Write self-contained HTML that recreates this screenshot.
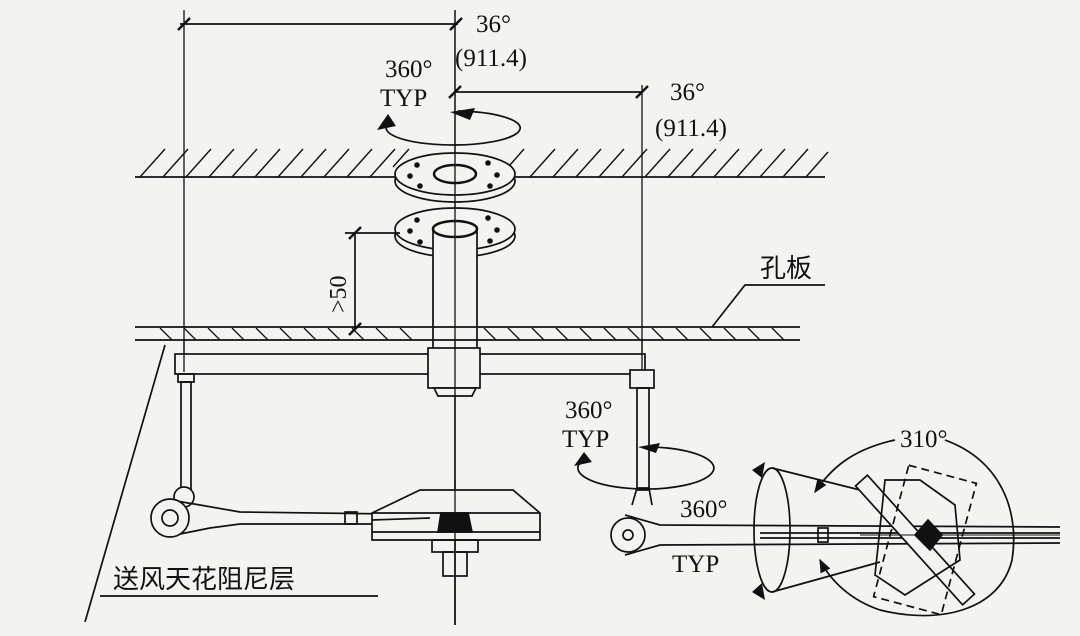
<!DOCTYPE html>
<html><head><meta charset="utf-8"><style>
html,body{margin:0;padding:0;background:#f3f3f1;}
svg{display:block}
text{font-family:"Liberation Serif","Noto Serif CJK SC",serif;fill:#111}
.cjk{font-family:"Liberation Sans","Noto Sans CJK SC",sans-serif}
</style></head><body>
<svg width="1080" height="636" viewBox="0 0 1080 636" xmlns="http://www.w3.org/2000/svg" stroke="#111" fill="none" stroke-width="1.7">
<defs>
<marker id="ar" viewBox="0 0 10 10" refX="9" refY="5" markerWidth="8" markerHeight="8" orient="auto"><path d="M0,1 L10,5 L0,9 z" fill="#111" stroke="none"/></marker>
</defs>
<rect x="0" y="0" width="1080" height="636" fill="#f3f3f1" stroke="none"/>
<!-- dimensions -->
<line x1="180" y1="24" x2="458" y2="24"/>
<line x1="184" y1="10" x2="184" y2="372" stroke-width="1.3"/>
<line x1="178" y1="30" x2="190" y2="18" stroke-width="2.5"/>
<line x1="450" y1="30" x2="462" y2="18" stroke-width="2.5"/>
<line x1="455" y1="10" x2="455" y2="625" stroke-width="1.3"/>
<line x1="455" y1="92" x2="642" y2="92"/>
<line x1="449" y1="98" x2="461" y2="86" stroke-width="2.5"/>
<line x1="636" y1="98" x2="648" y2="86" stroke-width="2.5"/>
<line x1="642" y1="85" x2="642" y2="372" stroke-width="1.3"/>
<g stroke="none" font-size="25">
<text x="476" y="32">36°</text>
<text x="455" y="66">(911.4)</text>
<text x="385" y="77">360°</text>
<text x="380" y="106">TYP</text>
<text x="670" y="100">36°</text>
<text x="655" y="136">(911.4)</text>
<text x="565" y="418">360°</text>
<text x="562" y="447">TYP</text>
<text x="680" y="517">360°</text>
<text x="672" y="572">TYP</text>
<text x="900" y="447">310°</text>
</g>
<!-- top rotation -->
<path d="M388,124 A67,17 0 1 0 458,111"/>
<path d="M475,108 L450,112 L470,120 z" fill="#111" stroke="none"/>
<path d="M377,130 L388,114 L396,126 z" fill="#111" stroke="none"/>
<!-- ceiling -->
<line x1="135" y1="177" x2="825" y2="177"/>
<g stroke-width="1.4">
<path d="M140,177 l25,-28 M163,177 l25,-28 M186,177 l25,-28 M209,177 l25,-28 M232,177 l25,-28 M255,177 l25,-28 M278,177 l25,-28 M301,177 l25,-28 M324,177 l25,-28 M347,177 l25,-28 M370,177 l25,-28 M393,167 l16,-18 M510,165 l14,-16 M530,177 l25,-28 M553,177 l25,-28 M576,177 l25,-28 M599,177 l25,-28 M622,177 l25,-28 M645,177 l25,-28 M668,177 l25,-28 M691,177 l25,-28 M714,177 l25,-28 M737,177 l25,-28 M760,177 l25,-28 M783,177 l25,-28 M806,177 l22,-25"/>
</g>
<!-- flanges -->
<g fill="#f3f3f1">
<ellipse cx="455" cy="181" rx="60" ry="21"/>
<ellipse cx="455" cy="174" rx="60" ry="21"/>
<ellipse cx="455" cy="236" rx="60" ry="21"/>
<ellipse cx="455" cy="229" rx="60" ry="21"/>
</g>
<ellipse cx="455" cy="174" rx="21" ry="9" stroke-width="2.5"/>
<g fill="#111" stroke="none">
<circle cx="417" cy="165" r="2.8"/><circle cx="410" cy="176" r="2.8"/><circle cx="420" cy="186" r="2.8"/><circle cx="488" cy="163" r="2.8"/><circle cx="497" cy="175" r="2.8"/><circle cx="490" cy="186" r="2.8"/>
<circle cx="417" cy="220" r="2.8"/><circle cx="410" cy="231" r="2.8"/><circle cx="420" cy="242" r="2.8"/><circle cx="488" cy="218" r="2.8"/><circle cx="497" cy="230" r="2.8"/><circle cx="490" cy="241" r="2.8"/>
</g>
<!-- pipe -->
<rect x="433" y="229" width="44" height="120" fill="#f3f3f1"/>
<ellipse cx="455" cy="229" rx="22" ry="8" stroke-width="2.5" fill="#f3f3f1"/>
<line x1="455" y1="10" x2="455" y2="625" stroke-width="1.3"/>
<!-- >50 -->
<line x1="345" y1="233" x2="400" y2="233"/>
<line x1="355" y1="233" x2="355" y2="330"/>
<line x1="349" y1="239" x2="361" y2="227" stroke-width="2.5"/>
<line x1="349" y1="335" x2="361" y2="323" stroke-width="2.5"/>
<text x="0" y="0" font-size="24" stroke="none" transform="translate(346,313) rotate(-90)">&gt;50</text>
<!-- perforated plate -->
<line x1="135" y1="327" x2="800" y2="327"/>
<line x1="135" y1="340" x2="800" y2="340"/>
<g stroke-width="1.3">
<path d="M160,328 l12,12 M184,328 l12,12 M208,328 l12,12 M232,328 l12,12 M256,328 l12,12 M280,328 l12,12 M304,328 l12,12 M328,328 l12,12 M352,328 l12,12 M376,328 l12,12 M400,328 l12,12 M484,328 l12,12 M508,328 l12,12 M532,328 l12,12 M556,328 l12,12 M580,328 l12,12 M604,328 l12,12 M628,328 l12,12 M652,328 l12,12 M676,328 l12,12 M700,328 l12,12 M724,328 l12,12 M748,328 l12,12 M772,328 l12,12"/>
</g>
<text x="760" y="277" font-size="26" class="cjk" stroke="none">孔板</text>
<polyline points="825,285 745,285 712,327"/>
<!-- bar -->
<rect x="175" y="354" width="470" height="20" fill="#f3f3f1"/>
<rect x="428" y="348" width="52" height="40" fill="#f3f3f1"/>
<path d="M434,388 L476,388 L472,396 L438,396 z" fill="#f3f3f1"/>
<line x1="455" y1="340" x2="455" y2="625" stroke-width="1.3"/>
<line x1="184" y1="340" x2="184" y2="372" stroke-width="1.3"/>
<line x1="642" y1="340" x2="642" y2="372" stroke-width="1.3"/>
<rect x="630" y="370" width="24" height="18" fill="#f3f3f1"/>
<!-- left rod -->
<rect x="178" y="374" width="16" height="8"/>
<rect x="181" y="382" width="10" height="108"/>
<circle cx="184" cy="497" r="10" fill="#f3f3f1"/>
<path d="M170,500 L200,505 L240,512 L390,514 M170,536 L210,528 L240,524 L390,524"/>
<circle cx="170" cy="518" r="19" fill="#f3f3f1"/>
<circle cx="170" cy="518" r="8"/>
<rect x="345" y="512" width="12" height="12"/>
<!-- diffuser -->
<path d="M420,490 L513,490 L540,513 L540,540 L372,540 L372,513 z" fill="#f3f3f1"/>
<line x1="372" y1="513" x2="540" y2="513"/>
<line x1="372" y1="532" x2="540" y2="532"/>
<line x1="372" y1="520" x2="430" y2="518"/>
<path d="M441,513 L468,513 L472,532 L438,532 z" fill="#111"/>
<rect x="432" y="540" width="46" height="12"/>
<rect x="443" y="552" width="24" height="24"/>
<line x1="455" y1="480" x2="455" y2="625" stroke-width="1.3"/>
<!-- left label -->
<text x="113" y="588" font-size="26" class="cjk" stroke="none">送风天花阻尼层</text>
<line x1="100" y1="596" x2="378" y2="596"/>
<line x1="165" y1="345" x2="85" y2="622"/>
<!-- right rod -->
<rect x="637" y="388" width="12" height="102"/>
<path d="M632,505 L637,488 L649,488 L652,505"/>
<path d="M625,515 L660,525 L1060,527 M625,555 L660,545 L1060,543"/>
<line x1="760" y1="533" x2="1060" y2="533"/>
<line x1="760" y1="538" x2="1060" y2="538"/>
<circle cx="628" cy="535" r="17" fill="#f3f3f1"/>
<circle cx="628" cy="535" r="5"/>
<!-- right rotation -->
<path d="M583,460 A68,21 0 1 0 645,447"/>
<path d="M660,443 L638,447 L656,453 z" fill="#111" stroke="none"/>
<path d="M574,466 L584,452 L592,462 z" fill="#111" stroke="none"/>
<!-- cone -->
<ellipse cx="772" cy="530" rx="18" ry="62"/>
<path d="M772,468 L880,495 M772,592 L880,562"/>
<rect x="818" y="528" width="10" height="14"/>
<!-- big circular arrow -->
<path d="M895,440 C850,450 830,470 815,492" marker-end="url(#ar)"/>
<path d="M945,440 C1000,460 1020,510 1012,560 C1000,610 940,625 880,610 C850,600 830,580 820,560" marker-end="url(#ar)"/>
<path d="M752,470 L765,462 L762,478 z" fill="#111" stroke="none"/>
<path d="M752,592 L765,600 L762,583 z" fill="#111" stroke="none"/>
<!-- tilted plate -->
<g transform="translate(915,540) rotate(48)">
<rect x="-80" y="-8" width="160" height="16" fill="#f3f3f1"/>
</g>
<g transform="translate(925,540) rotate(15)">
<rect x="-35" y="-68" width="70" height="136" stroke-dasharray="8,5"/>
</g>
<polygon points="885,480 920,480 955,505 960,560 905,595 875,575" fill="none"/>
<polygon points="915,535 928,520 942,535 930,550" fill="#111"/>
<line x1="860" y1="535" x2="1060" y2="535" stroke-width="1"/>
</svg>
</body></html>
